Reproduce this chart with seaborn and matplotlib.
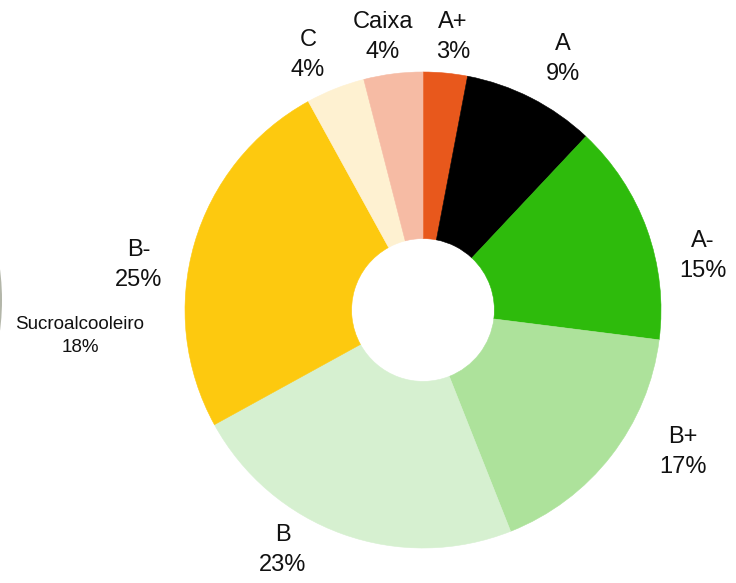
import matplotlib
matplotlib.use("Agg")
import matplotlib.pyplot as plt
import matplotlib.patches as mpatches
import seaborn as sns

categories = ["A+", "A", "A-", "B+", "B", "B-", "C", "Caixa"]
values = [3, 9, 15, 17, 23, 25, 4, 4]
colors = ["#e8581c", "#000000", "#2ebb0c", "#ade29b", "#d6f0d0", "#fdc90f", "#fef1d1", "#f6bba4"]
side_label = "Sucroalcooleiro"
side_value = 18

sns.set_theme(style="white")
plt.rcParams["font.family"] = ["Liberation Sans", "DejaVu Sans"]

W, H = 736, 583
fig = plt.figure(figsize=(W / 100, H / 100), dpi=100)
cx, cy, R = 423, 310, 238
ax = fig.add_axes([(cx - R) / W, (H - cy - R) / H, 2 * R / W, 2 * R / H])

# label anchor points (pixel positions in the layout), placed like the original
label_px = [(453, 37), (563, 59), (703, 256), (683, 452), (283, 550), (139, 265), (308, 55), (383, 37)]

labels = [f"{c}\n{v}%" for c, v in zip(categories, values)]
wedges, texts = ax.pie(values, colors=colors, startangle=90, counterclock=False,
                       labels=labels, labeldistance=1.19, radius=1,
                       wedgeprops=dict(width=0.70, linewidth=0))
for w, c in zip(wedges, colors):
    w.set_edgecolor(c)
    w.set_linewidth(0.4)
for t, (px, py) in zip(texts, label_px):
    t.set_position(((px - cx) / R, (cy - py) / R))
    t.set_ha("center")
    t.set_va("center")
    t.set_fontsize(17)
    t.set_linespacing(1.42)
    t.set_color("#111111")
ax.set_xlim(-1, 1)
ax.set_ylim(-1, 1)
ax.set_aspect("equal")
ax.axis("off")

# neighbouring chart (cut off at the left edge)
ell = mpatches.Ellipse((-236 / W, (H - 300) / H), 2 * R / W, 2 * R / H,
                       transform=fig.transFigure, facecolor="#b3b6a9", edgecolor="none")
fig.patches.append(ell)
fig.text(80 / W, 1 - 336 / H, f"{side_label}\n{side_value}%", ha="center", va="center",
         fontsize=13.5, linespacing=1.4, color="#111111")

fig.savefig("out.png", dpi=100, facecolor="white")
